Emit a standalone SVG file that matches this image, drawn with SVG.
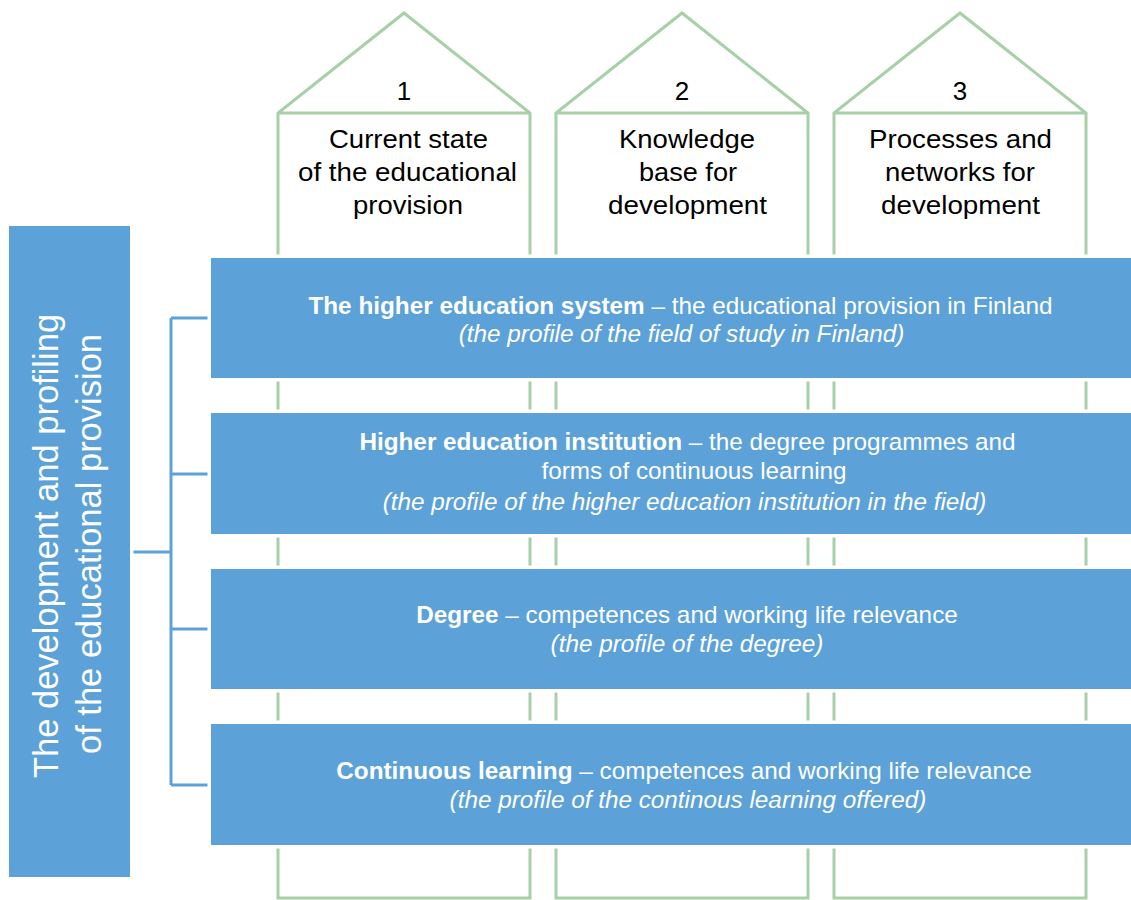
<svg xmlns="http://www.w3.org/2000/svg" width="1131" height="900" viewBox="0 0 1131 900">
  <style>
    .house { fill: none; stroke: #A8D0A8; stroke-width: 3; stroke-linejoin: miter; }
    .bar { fill: #5CA2D8; stroke: #FFFFFF; stroke-width: 7; paint-order: stroke; }
    .link { fill: none; stroke: #5CA2D8; stroke-width: 3; }
    .htxt { font-family: "Liberation Sans", Arial, sans-serif; font-size: 26px; fill: #000000; text-anchor: middle; }
    .btxt { font-family: "Liberation Sans", Arial, sans-serif; font-size: 24.3px; fill: #FFFFFF; text-anchor: middle; }
    .b { font-weight: bold; }
    .i { font-style: italic; }
    .side { font-family: "Liberation Sans", Arial, sans-serif; font-size: 34.5px; fill: #FFFFFF; text-anchor: middle; }
  </style>
  <rect width="1131" height="900" fill="#FFFFFF"/>

  <!-- three houses (pillars) -->
  <g id="house-1">
    <path class="house" d="M278,898 V113 L404,13 L530,113 V898 Z M278,113 H530"/>
    <text class="htxt" x="404" y="100">1</text>
    <text class="htxt" x="408.5" y="148" textLength="159" lengthAdjust="spacingAndGlyphs">Current state</text>
    <text class="htxt" x="407.5" y="181" textLength="219" lengthAdjust="spacingAndGlyphs">of the educational</text>
    <text class="htxt" x="408" y="213.5" textLength="110" lengthAdjust="spacingAndGlyphs">provision</text>
  </g>
  <g id="house-2">
    <path class="house" d="M556,898 V113 L682,13 L808,113 V898 Z M556,113 H808"/>
    <text class="htxt" x="682" y="100">2</text>
    <text class="htxt" x="687" y="148" textLength="136" lengthAdjust="spacingAndGlyphs">Knowledge</text>
    <text class="htxt" x="688" y="181" textLength="98" lengthAdjust="spacingAndGlyphs">base for</text>
    <text class="htxt" x="687.5" y="213.5" textLength="159" lengthAdjust="spacingAndGlyphs">development</text>
  </g>
  <g id="house-3">
    <path class="house" d="M834,898 V113 L960,13 L1086,113 V898 Z M834,113 H1086"/>
    <text class="htxt" x="960" y="100">3</text>
    <text class="htxt" x="960.5" y="148" textLength="183" lengthAdjust="spacingAndGlyphs">Processes and</text>
    <text class="htxt" x="960" y="181" textLength="150" lengthAdjust="spacingAndGlyphs">networks for</text>
    <text class="htxt" x="960.5" y="213.5" textLength="159" lengthAdjust="spacingAndGlyphs">development</text>
  </g>

  <!-- bracket connectors -->
  <g id="connectors">
    <path class="link" d="M133,552 H171 M171,318 V785 M171,318 H208 M171,474 H208 M171,629 H208 M171,785 H208"/>
  </g>

  <!-- side label -->
  <g id="side-label">
    <rect class="bar" x="9" y="226" width="121" height="651"/>
    <text class="side" transform="translate(58,546) rotate(-90)">The development and profiling</text>
    <text class="side" transform="translate(101,544) rotate(-90)">of the educational provision</text>
  </g>

  <!-- levels -->
  <g id="level-system">
    <rect class="bar" x="211" y="258" width="930" height="120"/>
    <text class="btxt" x="680.5" y="314"><tspan class="b">The higher education system</tspan> – the educational provision in Finland</text>
    <text class="btxt i" x="681.5" y="341.5">(the profile of the field of study in Finland)</text>
  </g>
  <g id="level-institution">
    <rect class="bar" x="211" y="413" width="930" height="121"/>
    <text class="btxt" x="687.5" y="450"><tspan class="b">Higher education institution</tspan> – the degree programmes and</text>
    <text class="btxt" x="694" y="479">forms of continuous learning</text>
    <text class="btxt i" x="684.5" y="510">(the profile of the higher education institution in the field)</text>
  </g>
  <g id="level-degree">
    <rect class="bar" x="211" y="569" width="930" height="120"/>
    <text class="btxt" x="687" y="623"><tspan class="b">Degree</tspan> – competences and working life relevance</text>
    <text class="btxt i" x="687" y="651.5">(the profile of the degree)</text>
  </g>
  <g id="level-continuous">
    <rect class="bar" x="211" y="724" width="930" height="121"/>
    <text class="btxt" x="684" y="779"><tspan class="b">Continuous learning</tspan> – competences and working life relevance</text>
    <text class="btxt i" x="688" y="808">(the profile of the continous learning offered)</text>
  </g>
</svg>
